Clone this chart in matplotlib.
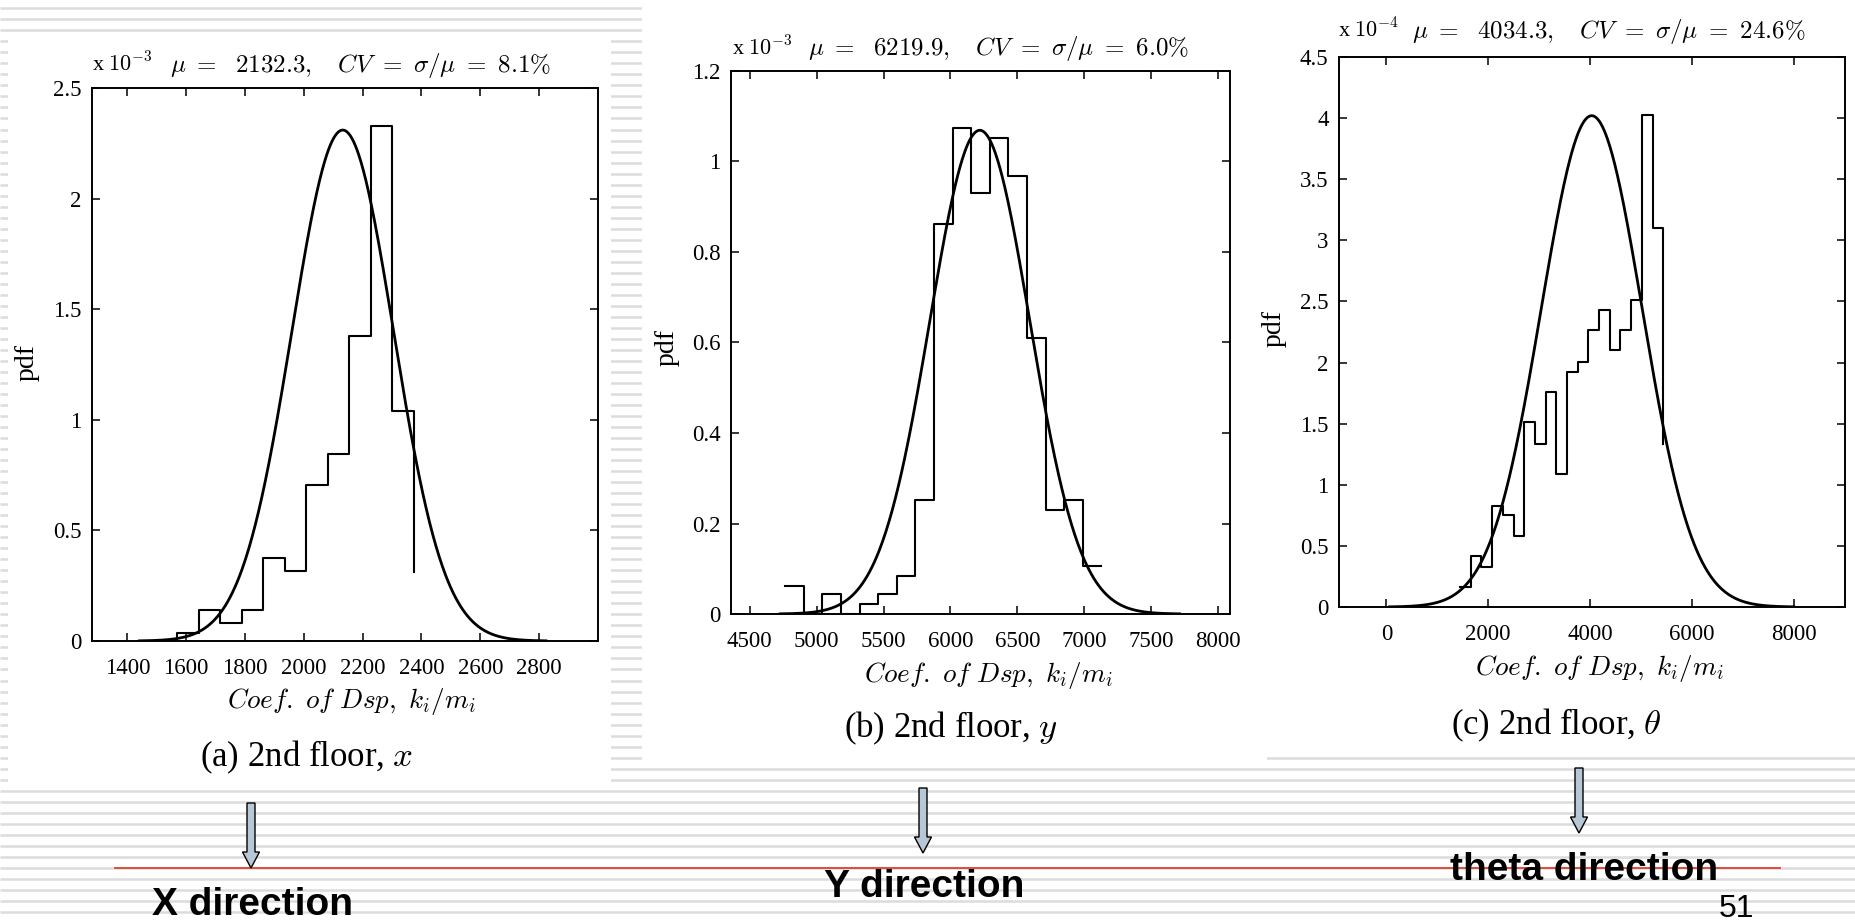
import numpy as np
import matplotlib
matplotlib.use("Agg")
import matplotlib.pyplot as plt
from matplotlib.patches import Rectangle, FancyArrow
from matplotlib.ticker import FormatStrFormatter

W, H = 1856, 921

# ---- data (pdf in units of 10^exp) ----
mu_x, cv_x, exp_x = 2132.3, 0.081, -3
edges_x = [1497, 1570, 1643, 1716, 1789, 1862, 1935, 2008, 2081, 2154, 2227, 2300, 2373]
pdf_x = [0.0, 0.035, 0.14, 0.083, 0.14, 0.374, 0.317, 0.707, 0.845, 1.377, 2.327, 1.042]
tail_x = 0.31
xticks_x = [1400, 1600, 1800, 2000, 2200, 2400, 2600, 2800]
yticks_x = [0, 0.5, 1, 1.5, 2, 2.5]

mu_y, cv_y, exp_y = 6219.9, 0.060, -3
edges_y = [4765, 4904, 5043, 5182, 5321, 5460, 5599, 5738, 5877, 6016, 6155,
           6294, 6433, 6572, 6711, 6850, 6989, 7128]
pdf_y = [0.0625, 0.0, 0.044, 0.0, 0.022, 0.044, 0.084, 0.251, 0.862, 1.074,
         0.930, 1.053, 0.968, 0.610, 0.229, 0.251, 0.105]
tail_y = 0.105
xticks_y = [4500, 5000, 5500, 6000, 6500, 7000, 7500, 8000]
yticks_y = [0, 0.2, 0.4, 0.6, 0.8, 1, 1.2]

mu_t, cv_t, exp_t = 4034.3, 0.246, -4
edges_t = [1449, 1659, 1869, 2079, 2289, 2499, 2709, 2919, 3129, 3339, 3549,
           3759, 3969, 4179, 4389, 4599, 4809, 5019, 5229, 5439]
pdf_t = [0.163, 0.416, 0.326, 0.829, 0.753, 0.584, 1.514, 1.332, 1.762, 1.087,
         1.925, 2.006, 2.264, 2.427, 2.101, 2.264, 2.509, 4.024, 3.099]
tail_t = 1.33
xticks_t = [0, 2000, 4000, 6000, 8000]
yticks_t = [0, 0.5, 1, 1.5, 2, 2.5, 3, 3.5, 4, 4.5]

captions = [r"(a) 2nd floor, $x$", r"(b) 2nd floor, $y$", r"(c) 2nd floor, $\theta$"]
directions = ["X direction", "Y direction", "theta direction"]

plt.rcParams['font.family'] = ['Liberation Serif', 'DejaVu Serif']
plt.rcParams['mathtext.fontset'] = 'cm'

fig = plt.figure(figsize=(W / 100, H / 100), dpi=100)

# slide background, drawn in pixel coordinates
bg = fig.add_axes([0, 0, 1, 1], zorder=-5)
bg.set_xlim(0, W)
bg.set_ylim(H, 0)
bg.axis('off')
bg.hlines(np.arange(8.3, H, 11.02), 0, W, color='#dcdcdc', lw=1.8, zorder=1)
for (x0, y0, w, h) in [(8, 33, 603, 753), (642, 0, 625, 763), (1267, 0, 589, 754)]:
    bg.add_patch(Rectangle((x0, y0), w, h, facecolor='white', edgecolor='none', zorder=2))
bg.plot([115, 1780], [868, 868], color='#e2402a', lw=1.3, zorder=3)

# plot boxes in pixels: left, top, right, bottom
boxes = [(92, 88, 598, 641), (731, 71, 1230, 614), (1339, 57, 1845, 607)]
xlims = [(1280, 3000), (4360, 8090), (-930, 9010)]
ylims = [2.5, 1.2, 4.5]
title_pos = [(92, 170, 72), (732, 808, 55), (1338, 1412, 38)]
ylabel_pos = [(27, 362), (667, 347), (1274, 328)]
xlabel_pos = [(351, 701), (988, 675), (1599, 668)]
caption_pos = [(307, 757), (951, 728), (1556, 725)]
arrow_pos = [(251, 803, 868), (923, 788, 853), (1579, 768, 833)]
dir_pos = [(253, 915), (924, 897), (1584, 880)]

series = [
    (mu_x, cv_x, exp_x, edges_x, pdf_x, tail_x, xticks_x, yticks_x),
    (mu_y, cv_y, exp_y, edges_y, pdf_y, tail_y, xticks_y, yticks_y),
    (mu_t, cv_t, exp_t, edges_t, pdf_t, tail_t, xticks_t, yticks_t),
]

for i, (mu, cv, ex, edges, pdf, tail, xt, yt) in enumerate(series):
    l, t, r, b = boxes[i]
    ax = fig.add_axes([l / W, 1 - b / H, (r - l) / W, (b - t) / H])
    sigma = mu * cv
    xs = np.linspace(mu - 4 * sigma, mu + 4 * sigma, 500)
    curve = np.exp(-0.5 * ((xs - mu) / sigma) ** 2) / (sigma * np.sqrt(2 * np.pi)) / 10.0 ** ex
    ax.plot(xs, curve, color='black', lw=2.0)
    ax.step(edges, pdf + [tail], where='post', color='black', lw=1.5)
    ax.set_xlim(*xlims[i])
    ax.set_ylim(0, ylims[i])
    ax.set_xticks(xt)
    ax.set_yticks(yt)
    ax.yaxis.set_major_formatter(FormatStrFormatter('%g'))
    ax.tick_params(direction='in', top=True, right=True, length=6, width=1.1,
                   labelsize=16.5)
    ax.tick_params(axis='x', pad=12)
    ax.tick_params(axis='y', pad=7.5)
    for s in ax.spines.values():
        s.set_linewidth(1.4)

    ex_x, ti_x, base = title_pos[i]
    bg.text(ex_x, base, r"x $10^{%d}$" % ex, fontsize=16, va='baseline', ha='left')
    bg.text(ti_x, base,
            r"$\mu\ =\ \ %.1f,\ \ \ CV\ =\ \sigma/\mu\ =\ %.1f\%%$" % (mu, cv * 100),
            fontsize=18, va='baseline', ha='left')
    bg.text(*ylabel_pos[i], "pdf", rotation=90, fontsize=20, ha='center', va='center')
    bg.text(*xlabel_pos[i], r"$Coef.\ of\ Dsp,\ k_i/m_i$", fontsize=19.5,
            ha='center', va='center')
    bg.text(*caption_pos[i], captions[i], fontsize=25, ha='center', va='center')

    ax_x, ay0, ay1 = arrow_pos[i]
    bg.add_patch(FancyArrow(ax_x, ay0, 0, ay1 - ay0, width=8, head_width=17,
                            head_length=16, length_includes_head=True,
                            facecolor='#b8c7d6', edgecolor='black', lw=1, zorder=4))
    bg.text(*dir_pos[i], directions[i], family='Liberation Sans', fontweight='bold',
            fontsize=28, ha='center', va='baseline', zorder=5)

bg.text(1737, 894, "51", family='Liberation Sans', fontsize=23, ha='center', va='top')

fig.savefig("out.png", dpi=100)
